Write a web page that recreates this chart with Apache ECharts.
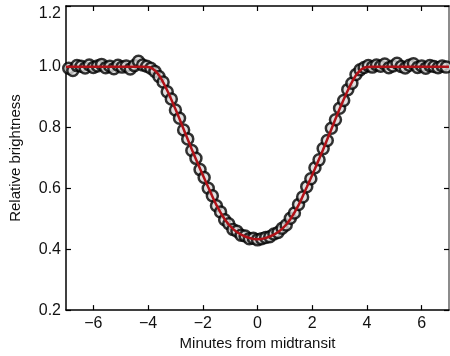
<!DOCTYPE html>
<html>
<head>
<meta charset="utf-8">
<script src="https://cdn.jsdelivr.net/npm/echarts@6/dist/echarts.min.js"></script>
<style>
  html, body { margin: 0; padding: 0; background: #fff; }
  #main { width: 450px; height: 356px; }
</style>
</head>
<body>
<div id="main"></div>
<script>
// minutes from midtransit
const times = [
  -6.9, -6.75, -6.6, -6.45, -6.3, -6.15, -6.0, -5.85, -5.7, -5.55,
  -5.4, -5.25, -5.1, -4.95, -4.8, -4.65, -4.5, -4.35, -4.2, -4.05,
  -3.9, -3.75, -3.6, -3.45, -3.3, -3.15, -3.0, -2.85, -2.7, -2.55,
  -2.4, -2.25, -2.1, -1.95, -1.8, -1.65, -1.5, -1.35, -1.2, -1.05,
  -0.9, -0.75, -0.6, -0.45, -0.3, -0.15, 0, 0.15, 0.3, 0.45,
  0.6, 0.75, 0.9, 1.05, 1.2, 1.35, 1.5, 1.65, 1.8, 1.95,
  2.1, 2.25, 2.4, 2.55, 2.7, 2.85, 3.0, 3.15, 3.3, 3.45,
  3.6, 3.75, 3.9, 4.05, 4.2, 4.35, 4.5, 4.65, 4.8, 4.95,
  5.1, 5.25, 5.4, 5.55, 5.7, 5.85, 6.0, 6.15, 6.3, 6.45,
  6.6, 6.75, 6.9
];
// measured relative brightness (circles)
const observed = [
  0.995, 0.988, 1.004, 1.002, 0.996, 1.006, 0.998, 1.003, 1.008, 0.997,
  1.002, 0.994, 1.005, 0.999, 1.003, 0.993, 1.004, 1.018, 1.006, 1.002,
  0.995, 0.985, 0.968, 0.950, 0.918, 0.894, 0.858, 0.831, 0.792, 0.763,
  0.725, 0.699, 0.662, 0.636, 0.601, 0.576, 0.543, 0.523, 0.497, 0.484,
  0.465, 0.459, 0.446, 0.444, 0.435, 0.436, 0.431, 0.435, 0.439, 0.441,
  0.450, 0.455, 0.469, 0.480, 0.502, 0.519, 0.547, 0.572, 0.606, 0.632,
  0.668, 0.694, 0.731, 0.758, 0.798, 0.826, 0.864, 0.889, 0.925, 0.946,
  0.975, 0.990, 0.998, 1.004, 0.999, 1.006, 1.002, 1.009, 0.997, 1.003,
  1.012, 1.001, 0.996, 1.005, 1.010, 0.998, 1.003, 0.995, 1.004, 1.001,
  0.997, 1.003, 0.999
];
// model fit (red line)
const modelT = [-7, -4.2, -3.9, -3.6, -3.3, -3.0, -2.7, -2.4, -2.1, -1.8, -1.5, -1.2, -0.9, -0.6, -0.3, 0,
  0.3, 0.6, 0.9, 1.2, 1.5, 1.8, 2.1, 2.4, 2.7, 3.0, 3.3, 3.6, 3.9, 4.2, 7];
const modelV = [1.0, 1.0, 0.997, 0.972, 0.922, 0.861, 0.795, 0.728, 0.665, 0.604, 0.545, 0.499, 0.467, 0.448, 0.437, 0.433,
  0.437, 0.448, 0.467, 0.499, 0.545, 0.604, 0.665, 0.728, 0.795, 0.861, 0.922, 0.972, 0.997, 1.0, 1.0];

const xTicks = [-6, -4, -2, 0, 2, 4, 6];

const font = 'Liberation Sans, Arial, sans-serif';
const minus = v => String(v).replace('-', '\u2212');

const chart = echarts.init(document.getElementById('main'));
chart.setOption({
  animation: false,
  grid: { left: 66, right: 1, top: 6, bottom: 44 },
  xAxis: [
    {
      type: 'value', min: -7, max: 7, position: 'bottom',
      name: 'Minutes from midtransit', nameLocation: 'middle', nameGap: 25,
      nameTextStyle: { fontSize: 15, color: '#111', fontFamily: font },
      axisLine: { onZero: false, lineStyle: { color: '#000', width: 1.5 } },
      axisTick: { inside: true, length: 5, customValues: xTicks, lineStyle: { color: '#000', width: 1.2 } },
      axisLabel: { customValues: xTicks, formatter: minus, fontSize: 16, color: '#111', margin: 5, fontFamily: font },
      splitLine: { show: false }
    },
    {
      type: 'value', min: -7, max: 7, position: 'top',
      axisLine: { onZero: false, lineStyle: { color: '#000', width: 1.5 } },
      axisTick: { inside: true, length: 5, customValues: xTicks, lineStyle: { color: '#000', width: 1.2 } },
      axisLabel: { show: false },
      splitLine: { show: false }
    }
  ],
  yAxis: [
    {
      type: 'value', min: 0.2, max: 1.2, interval: 0.2, position: 'left',
      name: 'Relative brightness', nameLocation: 'middle', nameGap: 43,
      nameTextStyle: { fontSize: 15, color: '#111', fontFamily: font },
      axisLine: { show: true, onZero: false, lineStyle: { color: '#000', width: 1.5 } },
      axisTick: { show: true, inside: true, length: 5, lineStyle: { color: '#000', width: 1.2 } },
      axisLabel: {
        formatter: v => v.toFixed(1), fontSize: 16, color: '#111', margin: 5, fontFamily: font,
        verticalAlignMaxLabel: 'top'
      },
      splitLine: { show: false }
    },
    {
      type: 'value', min: 0.2, max: 1.2, interval: 0.2, position: 'right',
      axisLine: { show: true, onZero: false, lineStyle: { color: '#666', width: 1.5 } },
      axisTick: { show: true, inside: true, length: 5, lineStyle: { color: '#000', width: 1.2 } },
      axisLabel: { show: false },
      splitLine: { show: false }
    }
  ],
  series: [
    {
      type: 'scatter',
      data: times.map((t, i) => [t, observed[i]]),
      symbol: 'circle',
      symbolSize: 11,
      itemStyle: { color: '#d8d8d8', borderColor: '#000', borderWidth: 2.5 },
      z: 2
    },
    {
      type: 'line',
      data: modelT.map((t, i) => [t, modelV[i]]),
      smooth: 0.3,
      showSymbol: false,
      lineStyle: { color: '#b01218', width: 2.5 },
      z: 3
    }
  ]
});
</script>
</body>
</html>
